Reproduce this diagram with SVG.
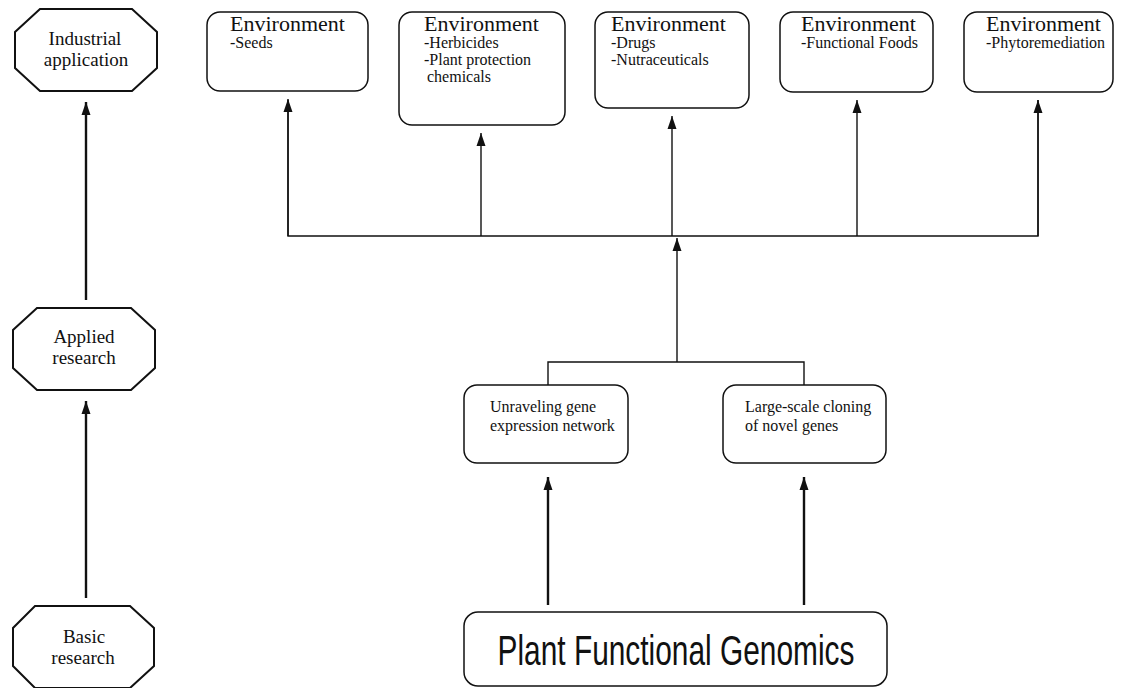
<svg xmlns="http://www.w3.org/2000/svg" width="1145" height="688" viewBox="0 0 1145 688">
<style>
.box{fill:#fff;stroke:#111;stroke-width:1.5}
.oct{fill:#fff;stroke:#111;stroke-width:2}
.ln{fill:none;stroke:#111;stroke-width:1.4}
.thk{fill:none;stroke:#111;stroke-width:2.4}
.t{font-family:"Liberation Serif","Times New Roman",serif;fill:#111}
.h{font-size:22px}
.s{font-size:16px}
.o{font-size:19px;text-anchor:middle}
.m{font-size:16px}
.pfg{font-family:"Liberation Sans",Arial,sans-serif;font-size:42px;fill:#111;text-anchor:middle}
</style>
<defs>
<marker id="ah" markerUnits="userSpaceOnUse" markerWidth="14" markerHeight="10" refX="13" refY="5" orient="auto">
<path d="M0,0.5 L13,5 L0,9.5 z" fill="#111"/>
</marker>
</defs>
<g id="connectors">
<line class="thk" x1="86" y1="300" x2="86" y2="102" marker-end="url(#ah)"/>
<line class="thk" x1="86" y1="598" x2="86" y2="401" marker-end="url(#ah)"/>
<polyline class="ln" points="288,100 288,236 1038,236 1038,100"/>
<line class="ln" x1="288" y1="236" x2="288" y2="99" marker-end="url(#ah)"/>
<line class="ln" x1="481" y1="236" x2="481" y2="133" marker-end="url(#ah)"/>
<line class="ln" x1="672" y1="236" x2="672" y2="116" marker-end="url(#ah)"/>
<line class="ln" x1="857" y1="236" x2="857" y2="100" marker-end="url(#ah)"/>
<line class="ln" x1="1038" y1="236" x2="1038" y2="100" marker-end="url(#ah)"/>
<line class="ln" x1="677" y1="362" x2="677" y2="238" marker-end="url(#ah)"/>
<polyline class="ln" points="548,385 548,362 804,362 804,385"/>
<line class="thk" x1="548" y1="605" x2="548" y2="477" marker-end="url(#ah)"/>
<line class="thk" x1="804" y1="605" x2="804" y2="477" marker-end="url(#ah)"/>
</g>
<g id="industrial">
<polygon class="oct" points="40,9 132,9 157,32 157,68 132,91 40,91 15,68 15,32"/>
<text class="t o" x="85" y="45">Industrial</text>
<text class="t o" x="86" y="66">application</text>
</g>
<g id="applied">
<polygon class="oct" points="37,308 131,308 155,330 155,368 131,390 37,390 13,368 13,330"/>
<text class="t o" x="84" y="343">Applied</text>
<text class="t o" x="84" y="364">research</text>
</g>
<g id="basic">
<polygon class="oct" points="35,606 130,606 154,628 154,666 130,688 35,688 13,666 13,628"/>
<text class="t o" x="84" y="643">Basic</text>
<text class="t o" x="83" y="664">research</text>
</g>
<g id="env1">
<rect class="box" x="207" y="12" width="161" height="79" rx="13"/>
<text class="t h" x="230" y="31">Environment</text>
<text class="t s" x="230" y="48">-Seeds</text>
</g>
<g id="env2">
<rect class="box" x="399" y="12" width="166" height="113" rx="13"/>
<text class="t h" x="424" y="31">Environment</text>
<text class="t s" x="424" y="48">-Herbicides</text>
<text class="t s" x="424" y="65">-Plant protection</text>
<text class="t s" x="427" y="82">chemicals</text>
</g>
<g id="env3">
<rect class="box" x="595" y="12" width="154" height="96" rx="13"/>
<text class="t h" x="611" y="31">Environment</text>
<text class="t s" x="611" y="48">-Drugs</text>
<text class="t s" x="611" y="65">-Nutraceuticals</text>
</g>
<g id="env4">
<rect class="box" x="780" y="12" width="153" height="80" rx="13"/>
<text class="t h" x="801" y="31">Environment</text>
<text class="t s" x="801" y="48">-Functional Foods</text>
</g>
<g id="env5">
<rect class="box" x="964" y="12" width="149" height="80" rx="13"/>
<text class="t h" x="986" y="31">Environment</text>
<text class="t s" x="986" y="48">-Phytoremediation</text>
</g>
<g id="unraveling">
<rect class="box" x="464" y="385" width="164" height="78" rx="13"/>
<text class="t m" x="490" y="412">Unraveling gene</text>
<text class="t m" x="490" y="431">expression network</text>
</g>
<g id="cloning">
<rect class="box" x="723" y="385" width="163" height="78" rx="13"/>
<text class="t m" x="745" y="412">Large-scale cloning</text>
<text class="t m" x="745" y="431">of novel genes</text>
</g>
<g id="pfg">
<rect class="box" x="464" y="612" width="423" height="74" rx="14"/>
<text class="pfg" x="676" y="665" textLength="357" lengthAdjust="spacingAndGlyphs">Plant Functional Genomics</text>
</g>
</svg>
